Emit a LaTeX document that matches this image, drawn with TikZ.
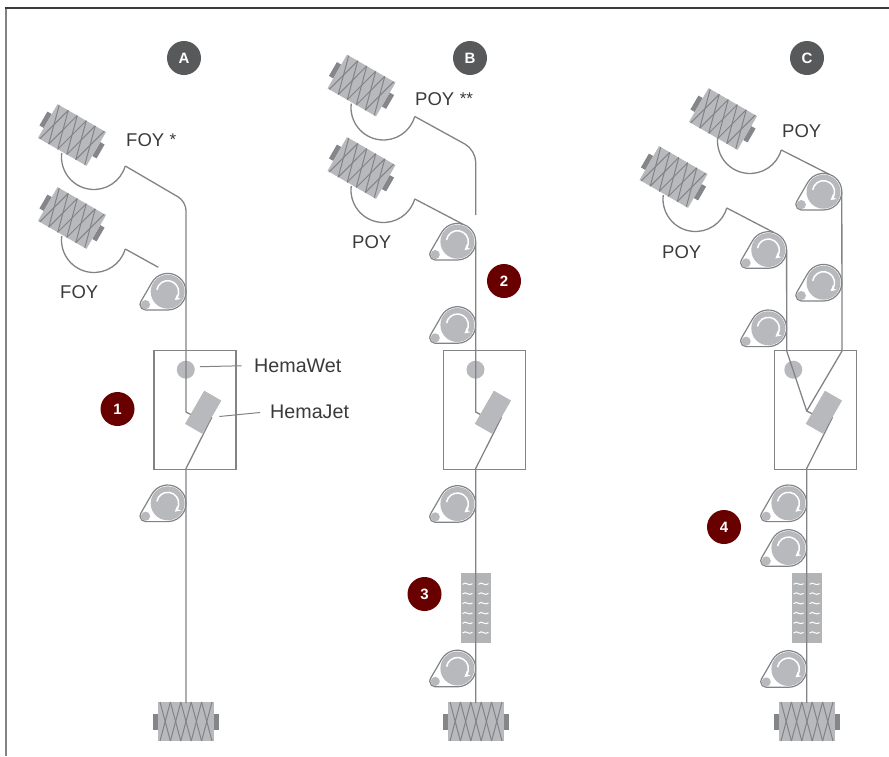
\documentclass[tikz,border=0pt]{standalone}
\usepackage{fontspec}
\setmainfont{Liberation Sans}
\usetikzlibrary{arrows.meta}
\definecolor{threadgray}{HTML}{828386}
\definecolor{partgray}{HTML}{B8B9BC}
\definecolor{capgray}{HTML}{85868A}
\definecolor{badgegray}{HTML}{58595B}
\definecolor{badgered}{HTML}{690000}
\definecolor{labelgray}{HTML}{3A3A3C}
\newcommand{\smallstar}[1]{\hspace{5.5pt}\raisebox{0.5pt}{\fontsize{17}{17}\selectfont #1}}
\tikzset{
  yarn/.style={draw=threadgray,line width=1.3pt},
  leader/.style={draw=threadgray,line width=1pt},
  unitbox/.style={draw=threadgray,line width=1.2pt,minimum width=82pt,minimum height=119pt,inner sep=0pt},
  wetdot/.style={circle,fill=partgray,minimum size=18pt,inner sep=0pt},
  jetblock/.style={fill=partgray,minimum width=19.5pt,minimum height=38pt,inner sep=0pt,rotate=-30},
  badge/.style={circle,minimum size=34pt,inner sep=0pt,text=white,font=\fontsize{15}{15}\selectfont\bfseries},
  yarnlabel/.style={text=labelgray,inner sep=0pt,font=\fontsize{18.5}{20}\selectfont},
  partlabel/.style={text=labelgray,inner sep=0pt,font=\fontsize{19.7}{21}\selectfont},
  bobbin/.pic={
    \fill[capgray] (-33,-8) rectangle (-28,8);
    \fill[capgray] (28,-8) rectangle (33,8);
    \fill[partgray] (-28,-19.5) rectangle (28,19.5);
    \foreach \k in {-26,-15.6,-5.2,5.2,15.6} {
      \draw[threadgray,line width=1pt] (\k,-19.5) -- (\k+10.4,19.5);
      \draw[threadgray,line width=1pt] (\k+10.4,-19.5) -- (\k,19.5);
    }
  },
  yarnloop/.pic={
    \draw[yarn] (-10.26,18.04) arc[start angle=187,end angle=16,radius=32.5];
    \coordinate (-out) at (53.24,30.96);
  },
  roller/.pic={
    \draw[fill=white,draw=threadgray,line width=1.2pt] (209.6:18.3)
      arc[start angle=209.6,end angle=450,radius=18.3] -- (-22.2,18.3)
      arc[start angle=90,end angle=209.6,radius=5.5] -- cycle;
    \fill[partgray] (0,0) circle (17);
    \fill[partgray] (-22.2,12.9) circle (4.6);
    \draw[white,line width=1.5pt,-{Stealth[length=5.5pt,width=6pt]}] (-10.83,-1.91)
      arc[start angle=190,end angle=410,radius=11];
    \coordinate (-out) at (18.3,0);
    \coordinate (-in) at (5.5,-17.5);
  },
  heater/.pic={
    \fill[partgray!97!black] (-15,-35) rectangle (15,35);
    \foreach \r in {-24,-14.3,-4.7,5.3,15,24.7}
      \foreach \s in {-8,8} {
        \draw[white,line width=1pt] (\s-5,\r+0.3) .. controls (\s-3,\r-1.5) and (\s-1.5,\r-1) .. (\s,\r)
          .. controls (\s+1.5,\r+1) and (\s+3,\r+0.8) .. (\s+5,\r-0.3);
      }
  }
}

\begin{document}
\begin{tikzpicture}[x=1pt,y=-1pt]
  \useasboundingbox (0,0) rectangle (889,756);

  % Frame
  \draw[threadgray,line width=2pt] (5.5,756) -- (5.5,8);
  \draw[labelgray,line width=1.6pt] (4.5,8) -- (889,8);

  % Badges
  \node[badge,fill=badgegray] (badgeA) at (184,58) {A};
  \node[badge,fill=badgegray] (badgeB) at (470,58) {B};
  \node[badge,fill=badgegray] (badgeC) at (807,58) {C};
  \node[badge,fill=badgered] (step1) at (117.5,409) {1};
  \node[badge,fill=badgered] (step2) at (504,281) {2};
  \node[badge,fill=badgered] (step3) at (424.5,594) {3};
  \node[badge,fill=badgered] (step4) at (724,527) {4};

  % Yarn labels
  \node[yarnlabel,anchor=west] (foyA) at (126,140) {FOY\smallstar{*}};
  \node[yarnlabel,anchor=west] (foyB) at (60,292) {FOY};
  \node[yarnlabel,anchor=west] (poyA) at (415,99) {POY\smallstar{**}};
  \node[yarnlabel,anchor=west] (poyB) at (352,242) {POY};
  \node[yarnlabel,anchor=west] (poyC) at (782,131) {POY};
  \node[yarnlabel,anchor=west] (poyD) at (662,252) {POY};

  % Boxes with wet dot
  \foreach \n/\x/\w in {a/153.3/32.5,b/443/32.5,c/774/19.3} {
    \node[unitbox,anchor=north west] (\n-box) at (\x,350) {};
    \node[wetdot] (\n-wet) at (\x+\w,369.7) {};
    \node[jetblock] (\n-jet) at (\x+49.9,412.2) {};
    \coordinate (\n-exit) at (\x+32.7,468.5);
  }

  % Loops of yarn under the spools
  \pic (a1) at (72,135) {yarnloop};
  \pic (a2) at (72,218) {yarnloop};
  \pic (b1) at (361.5,85.5) {yarnloop};
  \pic (b2) at (361.5,168) {yarnloop};
  \pic (c1) at (728,119) {yarnloop};
  \pic (c2) at (673.5,177) {yarnloop};

  % Spools
  \foreach \p in {(72,135),(72,218),(361.5,85.5),(361.5,168),(723,119),(673.5,177)}
    \pic[rotate=-30] at \p {bobbin};
  \pic at (186,721.5) {bobbin};
  \pic at (476,721.5) {bobbin};
  \pic at (807,721.5) {bobbin};

  % Rollers
  \pic (ra1) at (167.7,291.7) {roller};
  \pic (ra2) at (167.7,503.3) {roller};
  \pic (rb1) at (457.4,241.7) {roller};
  \pic (rb2) at (457.4,325) {roller};
  \pic (rb3) at (457.4,504) {roller};
  \pic (rb4) at (457.4,668.5) {roller};
  \pic (rc1) at (823.5,191.7) {roller};
  \pic (rc2) at (823.5,282.7) {roller};
  \pic (rc3) at (768.3,250) {roller};
  \pic (rc4) at (768.3,328.3) {roller};
  \pic (rc5) at (788.4,503.3) {roller};
  \pic (rc6) at (788.4,548) {roller};
  \pic (rc7) at (788.4,669) {roller};

  % Heaters
  \pic at (475.5,608) {heater};
  \pic at (806.6,608) {heater};

  % Turning points of the yarn
  \coordinate (a-turn) at (186,201.5);
  \coordinate (a-bend) at (186,412);
  \coordinate (a-nip) at (192,415.2);
  \coordinate (a-stop) at (158.3,267.3);
  \coordinate (a-end) at (186,703);
  \coordinate (b-turn) at (475.7,150);
  \coordinate (b-stop) at (475.7,215);
  \coordinate (b-bend) at (475.7,412);
  \coordinate (b-nip) at (481.7,415.2);
  \coordinate (b-end) at (475.7,703);
  \coordinate (c-bendl) at (786.7,351);
  \coordinate (c-nip) at (806.7,411);
  \coordinate (c-tip) at (812.5,414);
  \coordinate (c-bendr) at (842,351);
  \coordinate (c-end) at (806.8,703);

  % Column A
  \draw[yarn] (a1-out) [rounded corners=9pt] -- (a-turn) [sharp corners] -- (a-bend) -- (a-nip);
  \draw[yarn] (a2-out) -- (a-stop);
  \draw[yarn] (a-jet.east) -- (a-exit) -- (a-end);

  % Column B
  \draw[yarn] (b1-out) [rounded corners=12pt] -- (b-turn) [sharp corners] -- (b-stop);
  \draw[yarn] (b2-out) -- (rb1-in);
  \draw[yarn] (rb1-out) -- (b-bend) -- (b-nip);
  \draw[yarn] (b-jet.east) -- (b-exit) -- (b-end);

  % Column C
  \draw[yarn] (c1-out) -- (rc1-in);
  \draw[yarn] (c2-out) -- (rc3-in);
  \draw[yarn] (rc3-out) -- (c-bendl) -- (c-nip) -- (c-tip);
  \draw[yarn] (rc1-out) -- (c-bendr) -- (c-nip);
  \draw[yarn] (c-jet.east) -- (c-exit) -- (c-end);

  % Jet blocks go over the yarn
  \foreach \n/\x in {a/153.3,b/443,c/774}
    \node[jetblock] at (\x+49.9,412.2) {};

  % Names of the parts
  \node[partlabel,anchor=west] (wetlabel) at (254,365.5) {HemaWet};
  \node[partlabel,anchor=west] (jetlabel) at (270,411.5) {HemaJet};
  \coordinate (wetfoot) at (200,366.7);
  \coordinate (jetfoot) at (219.3,416.5);
  \draw[leader,shorten >=12.5pt] (wetfoot) -- (wetlabel.west);
  \draw[leader,shorten >=10pt] (jetfoot) -- (jetlabel.west);
\end{tikzpicture}
\end{document}
